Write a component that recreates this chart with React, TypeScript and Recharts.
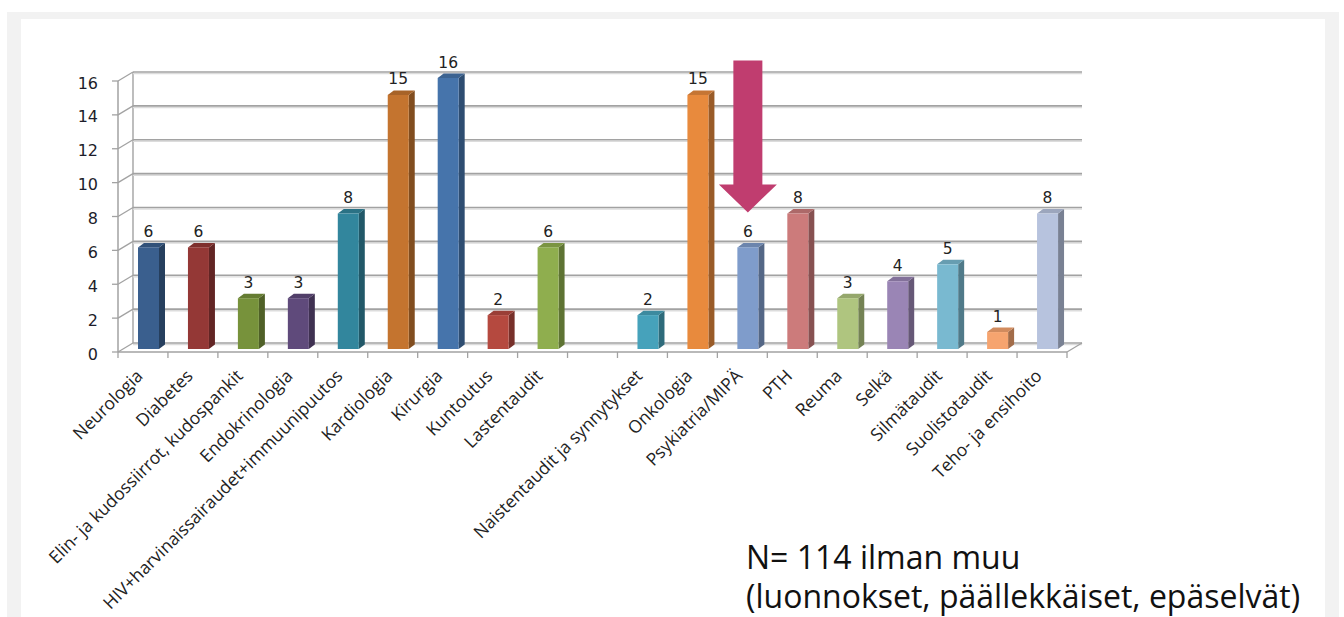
import { BarChart, Bar, XAxis, YAxis, CartesianGrid } from "recharts";

const categories = [
  "Neurologia",
  "Diabetes",
  "Elin- ja kudossiirrot, kudospankit",
  "Endokrinologia",
  "HIV+harvinaissairaudet+immuunipuutos",
  "Kardiologia",
  "Kirurgia",
  "Kuntoutus",
  "Lastentaudit",
  "",
  "Naistentaudit ja synnytykset",
  "Onkologia",
  "Psykiatria/MIPÄ",
  "PTH",
  "Reuma",
  "Selkä",
  "Silmätaudit",
  "Suolistotaudit",
  "Teho- ja ensihoito",
];
const counts: (number | null)[] = [6, 6, 3, 3, 8, 15, 16, 2, 6, null, 2, 15, 6, 8, 3, 4, 5, 1, 8];
const yTicks = [0, 2, 4, 6, 8, 10, 12, 14, 16];
const highlighted = "Psykiatria/MIPÄ";

// one colour per category (the empty slot has none)
const BAR_COLORS = [
  "#3a5f8e", "#943836", "#77923b", "#5f4a7b", "#32869d", "#c4742f", "#4674ab",
  "#b5493f", "#8fae4e", "#999999", "#46a2bb", "#e88a3d", "#7f9ccb", "#cc7b7b",
  "#afc57f", "#9a85b5", "#79b9d0", "#f6a46f", "#b7c3de",
];

const data = categories.map((name, i) => ({ name, count: counts[i] }));

// chart geometry
const CHART_W = 1344;
const CHART_H = 617;
const MARGIN = { top: 81, right: 277, bottom: 65, left: 58 };
const YAXIS_W = 60;
const XAXIS_H = 200;
const BAND = (CHART_W - MARGIN.left - YAXIS_W - MARGIN.right) / categories.length;

// fake 3d: back wall offset, bars sit part way into the floor
const DEPTH_X = 15;
const DEPTH_Y = -9;
const BAR_DX = 6;
const BAR_DY = -3;
const SIDE_X = 6;
const SIDE_Y = -4.5;

const GRID = "#a2a2a2";
const TEXT = "#222";

function shade(hex: string, k: number) {
  const n = parseInt(hex.slice(1), 16);
  const r = Math.round(((n >> 16) & 255) * k);
  const g = Math.round(((n >> 8) & 255) * k);
  const b = Math.round((n & 255) * k);
  return `rgb(${r},${g},${b})`;
}

function WallLine(props: any) {
  const { x1, y1, x2, index, y, height } = props;
  const bx = x1 + DEPTH_X;
  const by = y1 + DEPTH_Y;
  const isFloor = y != null && Math.abs(y1 - (y + height)) < 0.5;
  return (
    <g key={`wall-${index}`}>
      <line x1={bx} y1={by + 1.6} x2={x2 + DEPTH_X} y2={by + 1.6} stroke="#dcdcdc" strokeWidth={1.4} />
      <line x1={bx} y1={by} x2={x2 + DEPTH_X} y2={by} stroke={GRID} strokeWidth={1.6} />
      <line x1={x1} y1={y1} x2={bx} y2={by} stroke={GRID} strokeWidth={1.3} />
      {index === 0 && y != null && (
        <line x1={bx} y1={y + DEPTH_Y} x2={bx} y2={y + height + DEPTH_Y} stroke={GRID} strokeWidth={1.4} />
      )}
      {isFloor && <line x1={x2} y1={y1} x2={x2 + DEPTH_X} y2={by} stroke={GRID} strokeWidth={1.3} />}
    </g>
  );
}

function Arrow({ cx, tipY }: { cx: number; tipY: number }) {
  const shaft = 14.5;
  const head = 29;
  const headH = 28;
  const len = 152;
  const pts = [
    [cx - shaft, tipY - len],
    [cx + shaft, tipY - len],
    [cx + shaft, tipY - headH],
    [cx + head, tipY - headH],
    [cx, tipY],
    [cx - head, tipY - headH],
    [cx - shaft, tipY - headH],
  ];
  return <polygon points={pts.map((p) => p.join(",")).join(" ")} fill="#c03d6f" />;
}

function Prism(props: any) {
  const { x, y, width, height, payload } = props;
  if (payload.count == null || !height) return <g />;
  const c = BAR_COLORS[categories.indexOf(payload.name)];
  const fx = x + BAR_DX;
  const fy = y + BAR_DY;
  const r = fx + width;
  const side = [
    [r, fy], [r + SIDE_X, fy + SIDE_Y], [r + SIDE_X, fy + height + SIDE_Y], [r, fy + height],
  ];
  const top = [
    [fx, fy], [fx + SIDE_X, fy + SIDE_Y], [r + SIDE_X, fy + SIDE_Y], [r, fy],
  ];
  const cx = fx + width / 2;
  return (
    <g>
      <polygon points={side.map((p) => p.join(",")).join(" ")} fill={shade(c, 0.66)} />
      <polygon points={top.map((p) => p.join(",")).join(" ")} fill={shade(c, 0.85)} />
      <rect x={fx} y={fy} width={width} height={height} fill={c} />
      <text x={cx} y={fy - 10.5} textAnchor="middle" fontFamily="DejaVu Sans" fontSize={15.5} fill={TEXT}>
        {payload.count}
      </text>
      {payload.name === highlighted && <Arrow cx={cx} tipY={fy - 35} />}
    </g>
  );
}

function CategoryTick(props: any) {
  const { x, y, payload, index, visibleTicksCount } = props;
  const half = BAND / 2;
  const ax = x + 1;
  const ay = y + 25;
  return (
    <g>
      <line x1={x - half} y1={y} x2={x - half} y2={y + 6} stroke={GRID} strokeWidth={1.3} />
      {index === visibleTicksCount - 1 && (
        <line x1={x + half} y1={y} x2={x + half} y2={y + 6} stroke={GRID} strokeWidth={1.3} />
      )}
      <text
        x={ax}
        y={ay}
        textAnchor="end"
        transform={`rotate(-45, ${ax}, ${ay})`}
        fontFamily="Open Sans"
        fontSize={17.5}
        fill={TEXT}
      >
        {payload.value}
      </text>
    </g>
  );
}

function ValueTick(props: any) {
  const { x, y, payload } = props;
  return (
    <text x={x} y={y + 7.5} textAnchor="end" fontFamily="DejaVu Sans" fontSize={16} fill="#1d1d2b">
      {payload.value}
    </text>
  );
}

export default function App() {
  return (
    <div style={{ position: "absolute", left: 0, top: 0, width: CHART_W, height: CHART_H, background: "#fff", overflow: "hidden" }}>
      <div style={{ position: "absolute", left: 7, top: 12, width: 1332, height: 620, background: "#f2f2f2" }} />
      <div style={{ position: "absolute", left: 21, top: 19, width: 1304, height: 610, background: "#fff" }} />
      <div style={{ position: "absolute", left: 0, top: 0 }}>
        <BarChart width={CHART_W} height={CHART_H} data={data} margin={MARGIN} barSize={21}>
          <CartesianGrid vertical={false} horizontal={WallLine} />
          <XAxis
            dataKey="name"
            interval={0}
            height={XAXIS_H}
            tickSize={0}
            tickMargin={0}
            tickLine={false}
            axisLine={{ stroke: GRID, strokeWidth: 1.5 }}
            tick={CategoryTick}
          />
          <YAxis
            width={YAXIS_W}
            domain={[0, 16]}
            ticks={yTicks}
            tickSize={6}
            tickMargin={14}
            tickLine={{ stroke: GRID, strokeWidth: 1.3 }}
            axisLine={{ stroke: GRID, strokeWidth: 1.5 }}
            tick={ValueTick}
          />
          <Bar dataKey="count" shape={Prism} isAnimationActive={false} />
        </BarChart>
      </div>
      <div
        style={{
          position: "absolute",
          left: 746,
          top: 537,
          fontFamily: "Open Sans",
          fontSize: 32,
          lineHeight: "39px",
          color: "#111",
          whiteSpace: "nowrap",
        }}
      >
        <div>N= 114 ilman muu</div>
        <div>(luonnokset, päällekkäiset, epäselvät)</div>
      </div>
    </div>
  );
}
